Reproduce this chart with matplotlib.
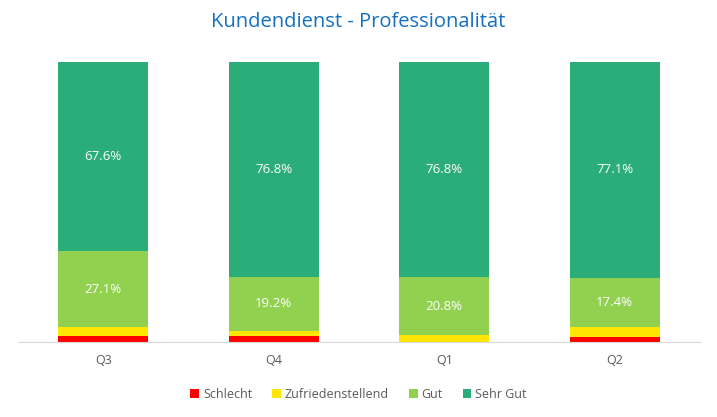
import numpy as np
import matplotlib.pyplot as plt

plt.rcParams['font.family'] = ['Open Sans', 'DejaVu Sans']

quartale = ['Q3', 'Q4', 'Q1', 'Q2']
schlecht = [2.1, 2.2, 0.0, 1.8]
zufrieden = [3.2, 1.8, 2.4, 3.7]
gut = [27.1, 19.2, 20.8, 17.4]
sehr_gut = [67.6, 76.8, 76.8, 77.1]

serien = ['Schlecht', 'Zufriedenstellend', 'Gut', 'Sehr Gut']
farben = ['#FF0000', '#FFE600', '#92D050', '#2AAD78']

fig = plt.figure(figsize=(7.17, 4.17), dpi=100)
ax = fig.add_axes([18 / 717, 1 - 342 / 417, 682 / 717, 280 / 417])

x = np.arange(len(quartale))
unten = np.zeros(len(quartale))
for name, werte, farbe in zip(serien, [schlecht, zufrieden, gut, sehr_gut], farben):
    werte = np.array(werte)
    ax.bar(x, werte, 0.53, bottom=unten, color=farbe, label=name)
    if name in ('Gut', 'Sehr Gut'):
        for xi, b, w in zip(x, unten, werte):
            ax.text(xi, b + w / 2, f'{w:.1f}%', ha='center', va='center',
                    color='white', fontsize=9.5)
    unten += werte

ax.set_xlim(-0.5, len(quartale) - 0.5)
ax.set_ylim(0, 100)
ax.set_yticks([])
ax.set_xticks(x)
ax.set_xticklabels(quartale, color='#595959', fontsize=9)
ax.tick_params(axis='x', length=0, pad=9)
for s in ['top', 'right', 'left']:
    ax.spines[s].set_visible(False)
ax.spines['bottom'].set_color('#D9D9D9')

fig.text(0.5, 1 - 22 / 417, 'Kundendienst - Professionalität', ha='center', va='center',
         color='#1570C2', fontsize=14.5)

fig.legend(loc='center', bbox_to_anchor=(0.5, 1 - 394 / 417), ncol=4, frameon=False,
           fontsize=9, handlelength=0.7, handleheight=0.7, handletextpad=0.3,
           columnspacing=1.6, labelcolor='#595959')

fig.savefig('out.png', dpi=100)
